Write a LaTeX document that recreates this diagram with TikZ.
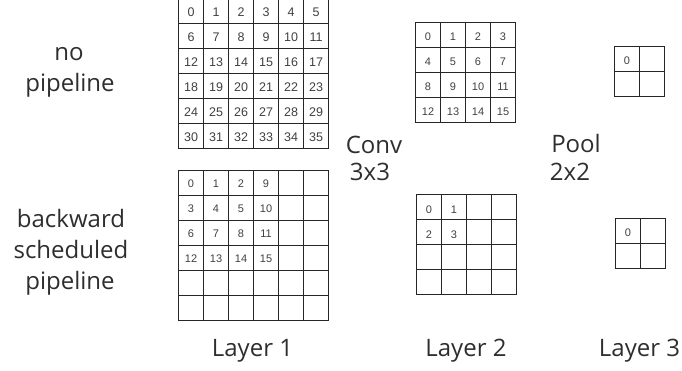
\documentclass[tikz,border=0pt]{standalone}
\usepackage{fontspec}
\setmainfont{Open Sans}
\newfontfamily\numfont{Liberation Sans}
\newcommand\drawcells[4]{%
  \foreach \k in {0,...,#3} {
    \draw[gridline] ({#1+\k*#4},#2) -- ({#1+\k*#4},{#2+#3*#4});
    \draw[gridline] (#1,{#2+\k*#4}) -- ({#1+#3*#4},{#2+\k*#4});
  }}
\begin{document}
\begin{tikzpicture}[x=1pt,y=-1pt,
  gridline/.style={line width=1.4pt, draw=black!85, line cap=rect},
  num/.style={font=\numfont\fontsize{11}{13}\selectfont, text=black!75, inner sep=0pt},
  bignum/.style={num, font=\numfont\fontsize{12.5}{14}\selectfont},
  lbl/.style={font=\fontsize{24}{28}\selectfont, text=black!82, inner sep=0pt, anchor=base}]
\useasboundingbox (0,0) rectangle (682,370);

% Layer 1, no pipeline
\drawcells{178.5}{-1.5}{6}{25}
\foreach \r in {0,...,5} {
  \foreach \c in {0,...,5} {
    \pgfmathtruncatemacro\v{\r*6+\c}
    \node[bignum] (a-\v) at ({178.5+(\c+0.5)*25},{-1.5+(\r+0.5)*25+1}) {\v};
  }}

% Layer 1, backward scheduled pipeline
\drawcells{178.5}{170.5}{6}{25}
\foreach \v/\c/\r in {0/0/0,1/1/0,2/2/0,9/3/0,3/0/1,4/1/1,5/2/1,10/3/1,6/0/2,7/1/2,8/2/2,11/3/2,12/0/3,13/1/3,14/2/3,15/3/3} {
  \node[num] (b-\v) at ({178.5+(\c+0.5)*25},{170.5+(\r+0.5)*25+1}) {\v};
}

% Layer 2, no pipeline
\drawcells{415.5}{22.5}{4}{25}
\foreach \r in {0,...,3} {
  \foreach \c in {0,...,3} {
    \pgfmathtruncatemacro\v{\r*4+\c}
    \node[num] (c-\v) at ({415.5+(\c+0.5)*25},{22.5+(\r+0.5)*25+2}) {\v};
  }}

% Layer 2, pipeline
\drawcells{416.5}{194.5}{4}{25}
\foreach \v/\c/\r in {0/0/0,1/1/0,2/0/1,3/1/1} {
  \node[num] (d-\v) at ({416.5+(\c+0.5)*25},{194.5+(\r+0.5)*25+2.5}) {\v};
}

% Layer 3
\drawcells{614.5}{46.5}{2}{25}
\node[num] (e-0) at ({614.5+0.5*25},{46.5+0.5*25+2}) {0};
\drawcells{615.5}{218.5}{2}{25}
\node[num] (f-0) at ({615.5+0.5*25},{218.5+0.5*25+2}) {0};

% labels
\node[lbl] (np1) at (69,60) {no};
\node[lbl] (np2) at (70,91.5) {pipeline};
\node[lbl] (bs1) at (71,227) {backward};
\node[lbl] (bs2) at (71,258) {scheduled};
\node[lbl] (bs3) at (70,289) {pipeline};
\node[lbl] (conv1) at (374,153) {Conv};
\node[lbl] (conv2) at (370,180) {3x3};
\node[lbl] (pool1) at (576,152) {Pool};
\node[lbl] (pool2) at (570,180) {2x2};
\node[lbl] (l1) at (252.5,356.7) {Layer 1};
\node[lbl] (l2) at (466,356.7) {Layer 2};
\node[lbl] (l3) at (639.5,356.7) {Layer 3};
\end{tikzpicture}
\end{document}
